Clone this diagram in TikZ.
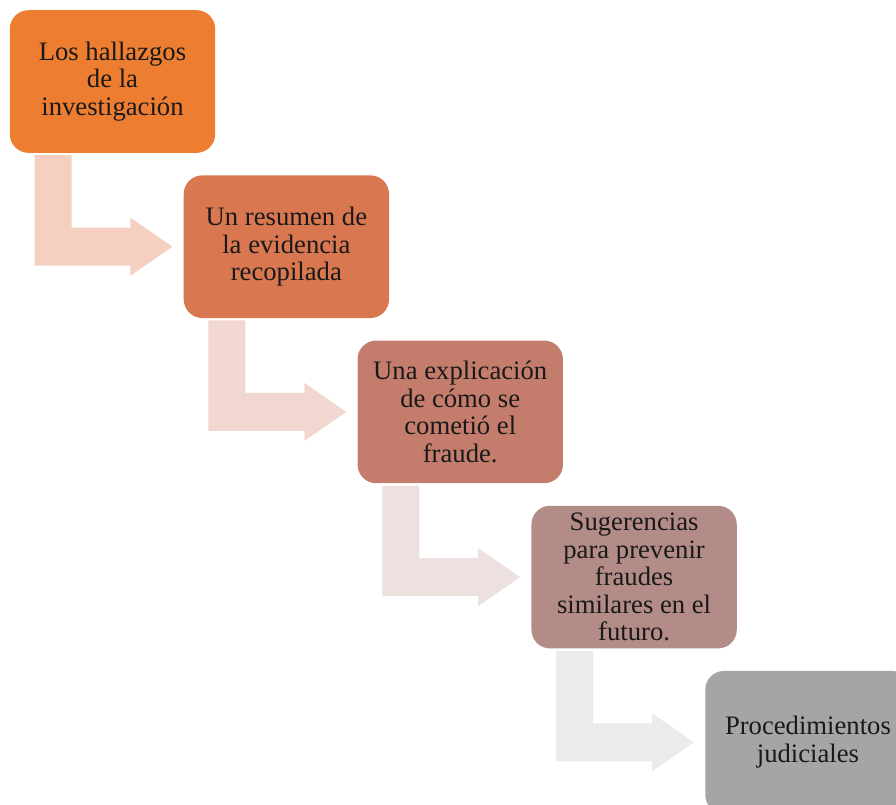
\documentclass[tikz,border=0pt]{standalone}
\usepackage{fontspec}
\setmainfont{Liberation Serif}
\usetikzlibrary {positioning, calc}

\definecolor{boxA}{HTML}{ED7D31}
\definecolor{boxB}{HTML}{D97850}
\definecolor{boxC}{HTML}{C47D6C}
\definecolor{boxD}{HTML}{B38C88}
\definecolor{boxE}{HTML}{A5A5A5}
\definecolor{arrA}{HTML}{F5CFBF}
\definecolor{arrB}{HTML}{F1D7CF}
\definecolor{arrC}{HTML}{EDE1DF}
\definecolor{arrD}{HTML}{EBEBEA}

\begin{document}
\begin{tikzpicture}[x=0.75pt, y=-0.75pt,
    stepbox/.style={rounded corners=14pt, minimum width=154pt, minimum height=107pt,
        inner sep=2pt, align=center, text=black!90,
        font=\fontsize{20}{20.6}\selectfont},
    chain/.style={below right=16.5pt and -24pt of #1}]
    % picture frame
    \clip (0, 0) rectangle (896, 805);
    % the five steps
    \node[stepbox, fill=boxA] (s1) at (112.5, 81.5) {Los hallazgos\\de la\\investigación};
    \node[stepbox, fill=boxB, chain=s1] (s2) {Un resumen de\\la evidencia\\recopilada};
    \node[stepbox, fill=boxC, chain=s2] (s3) {Una explicación\\de cómo se\\cometió el\\fraude.};
    \node[stepbox, fill=boxD, chain=s3] (s4) {Sugerencias\\para prevenir\\fraudes\\similares en el\\futuro.};
    \node[stepbox, fill=boxE, chain=s4] (s5) {Procedimientos\\judiciales};
    % bent arrows
    \foreach \a/\b/\c in {s1/s2/arrA, s2/s3/arrB, s3/s4/arrC, s4/s5/arrD}
        \fill[\c] ($(\a.south west)+(25, 2)$) coordinate (t) -- ++(37, 0)
            |- ($(\b.west)+(-53, -19)$) -- ++(0, -10) -- ($(\b.west)+(-11, 0)$)
            -- ++(-42, 29) -- ++(0, -10) -| (t);
\end{tikzpicture}
\end{document}
